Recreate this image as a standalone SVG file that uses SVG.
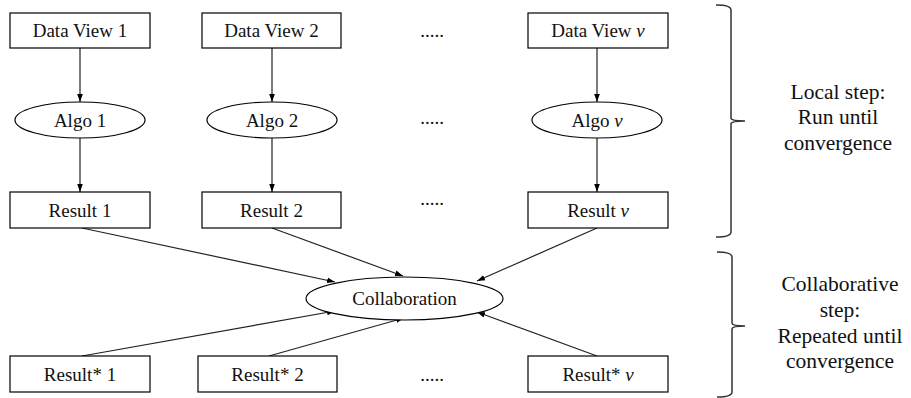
<svg xmlns="http://www.w3.org/2000/svg" width="911" height="398" viewBox="0 0 911 398">
<defs>
<marker id="ah" markerWidth="8" markerHeight="8" viewBox="0 0 8 8" refX="8" refY="4" orient="auto" markerUnits="userSpaceOnUse">
<path d="M0,1.2 L8,4 L0,6.8 Z" fill="#000"/>
</marker>
<style>
.box{fill:#fff;stroke:#000;stroke-width:1.2}
.t{font-family:"Liberation Serif","Times New Roman",serif;font-size:19px;fill:#111;text-anchor:middle}
.side{font-family:"Liberation Serif","Times New Roman",serif;font-size:21.5px;fill:#111;text-anchor:middle}
.c line{stroke:#222;stroke-width:1.2;marker-end:url(#ah)}
.br{fill:none;stroke:#333;stroke-width:1.5}
</style>
</defs>
<rect width="911" height="398" fill="#fff"/>
<g class="c" id="connectors">
<line x1="80" y1="48" x2="80" y2="102"/>
<line x1="272" y1="48" x2="272" y2="102"/>
<line x1="597" y1="48" x2="597" y2="102"/>
<line x1="80" y1="138" x2="80" y2="192"/>
<line x1="272" y1="138" x2="272" y2="192"/>
<line x1="597" y1="138" x2="597" y2="192"/>
<line x1="82" y1="228" x2="335" y2="282"/>
<line x1="272" y1="228" x2="403" y2="276"/>
<line x1="597" y1="228" x2="477" y2="281"/>
<line x1="82" y1="356" x2="335" y2="311"/>
<line x1="269" y1="356" x2="404" y2="318"/>
<line x1="597" y1="356" x2="477" y2="312"/>
</g>
<g id="dv1"><rect class="box" x="10" y="13" width="140" height="35"/><text class="t" x="80" y="37">Data View 1</text></g>
<g id="dv2"><rect class="box" x="202" y="13" width="139" height="35"/><text class="t" x="271.5" y="37">Data View 2</text></g>
<g id="dvv"><rect class="box" x="528" y="13" width="140" height="35"/><text class="t" x="598" y="37">Data View <tspan font-style="italic">v</tspan></text></g>
<g id="a1"><ellipse class="box" cx="80" cy="120" rx="65" ry="18"/><text class="t" x="80" y="127">Algo 1</text></g>
<g id="a2"><ellipse class="box" cx="272" cy="120" rx="65" ry="18"/><text class="t" x="272" y="127">Algo 2</text></g>
<g id="av"><ellipse class="box" cx="597" cy="120" rx="65" ry="18"/><text class="t" x="597" y="127">Algo <tspan font-style="italic">v</tspan></text></g>
<g id="r1"><rect class="box" x="10" y="192" width="140" height="36"/><text class="t" x="80" y="217">Result 1</text></g>
<g id="r2"><rect class="box" x="202" y="192" width="139" height="36"/><text class="t" x="271.5" y="217">Result 2</text></g>
<g id="rv"><rect class="box" x="528" y="192" width="140" height="36"/><text class="t" x="598" y="217">Result <tspan font-style="italic">v</tspan></text></g>
<g id="collab"><ellipse class="box" cx="404.5" cy="298.5" rx="98.5" ry="21.5"/><text class="t" x="404.5" y="305">Collaboration</text></g>
<g id="rs1"><rect class="box" x="10" y="356" width="140" height="36"/><text class="t" x="80" y="381">Result* 1</text></g>
<g id="rs2"><rect class="box" x="198" y="356" width="139" height="36"/><text class="t" x="267.5" y="381">Result* 2</text></g>
<g id="rsv"><rect class="box" x="528" y="356" width="140" height="36"/><text class="t" x="598" y="381">Result* <tspan font-style="italic">v</tspan></text></g>
<g id="dots">
<text class="t" x="432" y="37">.....</text>
<text class="t" x="432" y="124">.....</text>
<text class="t" x="432" y="205">.....</text>
<text class="t" x="432" y="381">.....</text>
</g>
<g id="brace1">
<path class="br" d="M716,5 Q731,5 731,10 L731,118 Q731,121 745,121 Q731,121 731,124 L731,232 Q731,237 716,237"/>
<text class="side" x="838" y="99">Local step:</text>
<text class="side" x="838" y="124">Run until</text>
<text class="side" x="838" y="150">convergence</text>
</g>
<g id="brace2">
<path class="br" d="M717,252 Q732,252 732,257 L732,323 Q732,326 745,326 Q732,326 732,329 L732,392 Q732,397 717,397"/>
<text class="side" x="840" y="291">Collaborative</text>
<text class="side" x="840" y="317">step:</text>
<text class="side" x="840" y="343">Repeated until</text>
<text class="side" x="840" y="368">convergence</text>
</g>
</svg>
